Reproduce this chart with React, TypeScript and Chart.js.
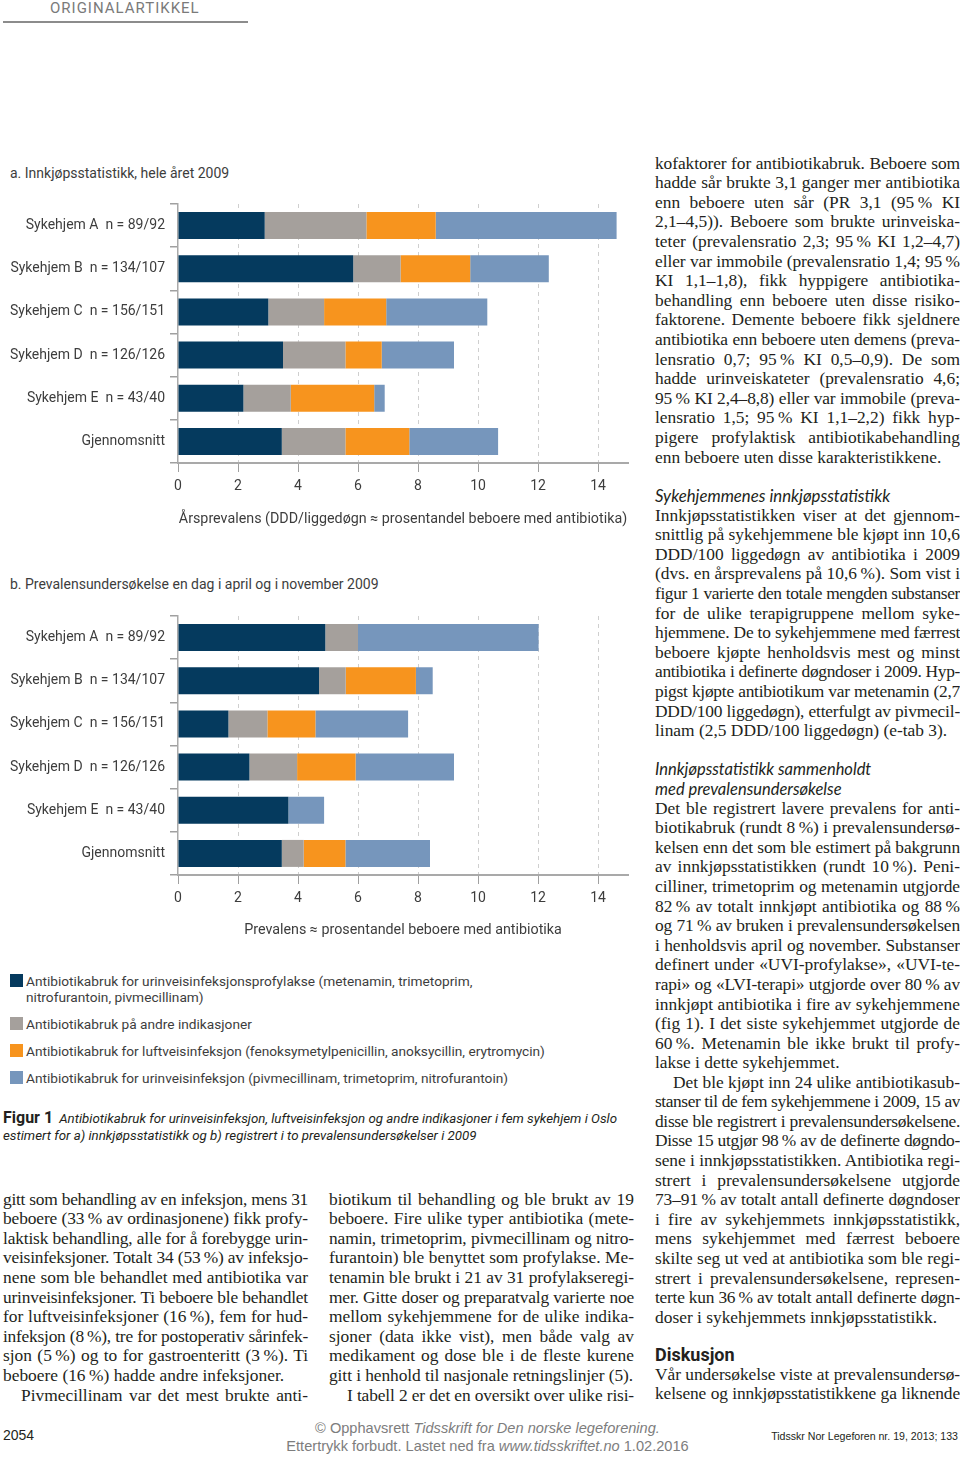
import React, { useEffect, useLayoutEffect, useRef } from 'react';
import { Chart, registerables } from 'chart.js';

Chart.register(...registerables);

// ---------- chart data ----------
const categories = [
  'Sykehjem A  n = 89/92',
  'Sykehjem B  n = 134/107',
  'Sykehjem C  n = 156/151',
  'Sykehjem D  n = 126/126',
  'Sykehjem E  n = 43/40',
  'Gjennomsnitt',
];

const seriesLabels = [
  'Antibiotikabruk for urinveisinfeksjonsprofylakse (metenamin, trimetoprim, nitrofurantoin, pivmecillinam)',
  'Antibiotikabruk på andre indikasjoner',
  'Antibiotikabruk for luftveisinfeksjon (fenoksymetylpenicillin, anoksycillin, erytromycin)',
  'Antibiotikabruk for urinveisinfeksjon (pivmecillinam, trimetoprim, nitrofurantoin)',
];
const seriesColors = ['#053a5e', '#a5a09c', '#f7941e', '#7696bc'];

// a. Innkjøpsstatistikk (DDD/liggedøgn)
const profylakseA = [2.89, 5.84, 3.01, 3.5, 2.18, 3.46];
const andreA = [3.39, 1.58, 1.86, 2.08, 1.58, 2.12];
const luftveiA = [2.31, 2.32, 2.07, 1.21, 2.78, 2.13];
const urinveiA = [6.03, 2.62, 3.37, 2.41, 0.35, 2.96];

// b. Prevalensundersøkelse (%)
const profylakseB = [4.91, 4.7, 1.68, 2.38, 3.68, 3.46];
const andreB = [1.09, 0.89, 1.3, 1.59, 0, 0.73];
const luftveiB = [0, 2.34, 1.6, 1.95, 0, 1.39];
const urinveiB = [6.02, 0.56, 3.09, 3.28, 1.19, 2.82];

const xTickValues = [0, 2, 4, 6, 8, 10, 12, 14];
const xMax = 15;

const titleA = 'a. Innkjøpsstatistikk, hele året 2009';
const titleB = 'b. Prevalensundersøkelse en dag i april og i november 2009';
const xTitleA = 'Årsprevalens (DDD/liggedøgn ≈ prosentandel beboere med antibiotika)';
const xTitleB = 'Prevalens ≈ prosentandel beboere med antibiotika';

// ---------- page text ----------
const rightP1 = [
  'kofaktorer for antibiotikabruk. Beboere som',
  'hadde sår brukte 3,1 ganger mer antibiotika',
  'enn beboere uten sår (PR 3,1 (95 % KI',
  '2,1–4,5)). Beboere som brukte urinveiska-',
  'teter (prevalensratio 2,3; 95 % KI 1,2–4,7)',
  'eller var immobile (prevalensratio 1,4; 95 %',
  'KI 1,1–1,8), fikk hyppigere antibiotika-',
  'behandling enn beboere uten disse risiko-',
  'faktorene. Demente beboere fikk sjeldnere',
  'antibiotika enn beboere uten demens (preva-',
  'lensratio 0,7; 95 % KI 0,5–0,9). De som',
  'hadde urinveiskateter (prevalensratio 4,6;',
  '95 % KI 2,4–8,8) eller var immobile (preva-',
  'lensratio 1,5; 95 % KI 1,1–2,2) fikk hyp-',
  'pigere profylaktisk antibiotikabehandling',
  'enn beboere uten disse karakteristikkene.',
];
const rightP2 = [
  'Innkjøpsstatistikken viser at det gjennom-',
  'snittlig på sykehjemmene ble kjøpt inn 10,6',
  'DDD/100 liggedøgn av antibiotika i 2009',
  '(dvs. en årsprevalens på 10,6 %). Som vist i',
  'figur 1 varierte den totale mengden substanser',
  'for de ulike terapigruppene mellom syke-',
  'hjemmene. De to sykehjemmene med færrest',
  'beboere kjøpte henholdsvis mest og minst',
  'antibiotika i definerte døgndoser i 2009. Hyp-',
  'pigst kjøpte antibiotikum var metenamin (2,7',
  'DDD/100 liggedøgn), etterfulgt av pivmecil-',
  'linam (2,5 DDD/100 liggedøgn) (e-tab 3).',
];
const rightP3 = [
  'Det ble registrert lavere prevalens for anti-',
  'biotikabruk (rundt 8 %) i prevalensundersø-',
  'kelsen enn det som ble estimert på bakgrunn',
  'av innkjøpsstatistikken (rundt 10 %). Peni-',
  'cilliner, trimetoprim og metenamin utgjorde',
  '82 % av totalt innkjøpt antibiotika og 88 %',
  'og 71 % av bruken i prevalensundersøkelsen',
  'i henholdsvis april og november. Substanser',
  'definert under «UVI-profylakse», «UVI-te-',
  'rapi» og «LVI-terapi» utgjorde over 80 % av',
  'innkjøpt antibiotika i fire av sykehjemmene',
  '(fig 1). I det siste sykehjemmet utgjorde de',
  '60 %. Metenamin ble ikke brukt til profy-',
  'lakse i dette sykehjemmet.',
];
const rightP4 = [
  'Det ble kjøpt inn 24 ulike antibiotikasub-',
  'stanser til de fem sykehjemmene i 2009, 15 av',
  'disse ble registrert i prevalensundersøkelsene.',
  'Disse 15 utgjør 98 % av de definerte døgndo-',
  'sene i innkjøpsstatistikken. Antibiotika regi-',
  'strert i prevalensundersøkelsene utgjorde',
  '73–91 % av totalt antall definerte døgndoser',
  'i fire av sykehjemmets innkjøpsstatistikk,',
  'mens sykehjemmet med færrest beboere',
  'skilte seg ut ved at antibiotika som ble regi-',
  'strert i prevalensundersøkelsene, represen-',
  'terte kun 36 % av totalt antall definerte døgn-',
  'doser i sykehjemmets innkjøpsstatistikk.',
];
const rightP5 = [
  'Vår undersøkelse viste at prevalensundersø-',
  'kelsene og innkjøpsstatistikkene ga liknende',
];
const leftC1 = [
  'gitt som behandling av en infeksjon, mens 31',
  'beboere (33 % av ordinasjonene) fikk profy-',
  'laktisk behandling, alle for å forebygge urin-',
  'veisinfeksjoner. Totalt 34 (53 %) av infeksjo-',
  'nene som ble behandlet med antibiotika var',
  'urinveisinfeksjoner. Ti beboere ble behandlet',
  'for luftveisinfeksjoner (16 %), fem for hud-',
  'infeksjon (8 %), tre for postoperativ sårinfek-',
  'sjon (5 %) og to for gastroenteritt (3 %). Ti',
  'beboere (16 %) hadde andre infeksjoner.',
];
const leftC1b = ['Pivmecillinam var det mest brukte anti-'];
const leftC2 = [
  'biotikum til behandling og ble brukt av 19',
  'beboere. Fire ulike typer antibiotika (mete-',
  'namin, trimetoprim, pivmecillinam og nitro-',
  'furantoin) ble benyttet som profylakse. Me-',
  'tenamin ble brukt i 21 av 31 profylaksesregi-'.replace('sregi', 'regi'),
  'mer. Gitte doser og preparatvalg varierte noe',
  'mellom sykehjemmene for de ulike indika-',
  'sjoner (data ikke vist), men både valg av',
  'medikament og dose ble i de fleste kurene',
  'gitt i henhold til nasjonale retningslinjer (5).',
];
const leftC2b = ['I tabell 2 er det en oversikt over ulike risi-'];

const LH = 19.6;
const SERIF = '"Liberation Serif", "Times New Roman", serif';
const SANS = 'Roboto, "Noto Sans", sans-serif';
const BODY_SIZE = 17.4;

function JLine({ text, x, y, w, last, indent = 0 }: { text: string; x: number; y: number; w: number; last: boolean; indent?: number }) {
  const ref = useRef<HTMLDivElement>(null);
  const spanRef = useRef<HTMLSpanElement>(null);
  const shown = text.replace(/ %/g, '\u202F%');
  useLayoutEffect(() => {
    const el = ref.current;
    const sp = spanRef.current;
    if (!el || !sp) return;
    el.style.textAlignLast = 'left';
    el.style.letterSpacing = '0px';
    const natural = sp.getBoundingClientRect().width;
    const avail = w - indent;
    if (natural > avail) {
      el.style.letterSpacing = ((avail - natural - 1) / shown.length) + 'px';
    }
    el.style.textAlignLast = last ? 'left' : 'justify';
  }, [shown, w, indent, last]);
  return (
    <div
      ref={ref}
      style={{
        position: 'absolute',
        left: x + indent,
        top: y - 10.5,
        width: w - indent,
        height: LH,
        lineHeight: LH + 'px',
        fontFamily: SERIF,
        fontSize: BODY_SIZE,
        color: '#231f20',
        whiteSpace: 'nowrap',
        textAlign: last ? 'left' : 'justify',
      }}
    >
      <span ref={spanRef}>{shown}</span>
    </div>
  );
}

function Para({ lines, x, y0, lastLine = true, indent = 0 }: { lines: string[]; x: number; y0: number; lastLine?: boolean; indent?: number }) {
  return (
    <>
      {lines.map((t, i) => (
        <JLine
          key={i}
          text={t}
          x={x}
          y={y0 + i * LH}
          w={305}
          indent={i === 0 ? indent : 0}
          last={lastLine && i === lines.length - 1}
        />
      ))}
    </>
  );
}

function BarChart({ series, xTitle, top, height, padTop, xHeight, titlePadBottom }: {
  series: number[][]; xTitle: string; top: number; height: number; padTop: number; xHeight: number; titlePadBottom: number;
}) {
  const ref = useRef<HTMLCanvasElement>(null);
  useEffect(() => {
    const font = { family: 'Roboto', size: 14 };
    const chart = new Chart(ref.current!, {
      type: 'bar',
      data: {
        labels: categories,
        datasets: series.map((d, i) => ({
          label: seriesLabels[i],
          data: d,
          backgroundColor: seriesColors[i],
          borderWidth: 0,
          barPercentage: 0.625,
          categoryPercentage: 1,
        })),
      },
      options: {
        indexAxis: 'y',
        responsive: false,
        animation: false,
        layout: { padding: { top: padTop, right: 12, left: 0, bottom: 0 } },
        plugins: { legend: { display: false }, tooltip: { enabled: false }, title: { display: false } },
        scales: {
          x: {
            stacked: true,
            min: 0,
            max: xMax,
            afterBuildTicks: (s: any) => {
              s.ticks = xTickValues.map((v) => ({ value: v }));
            },
            afterFit: (s: any) => {
              s.height = xHeight;
            },
            ticks: { font, color: '#3d3d3d', padding: 6, maxRotation: 0, autoSkip: false },
            grid: {
              color: (ctx: any) => (ctx.tick && ctx.tick.value === 0 ? 'rgba(0,0,0,0)' : '#cfcfcf'),
              lineWidth: 1,
              tickColor: '#a0a0a0',
              tickLength: 9,
              tickWidth: 1,
              tickBorderDash: [],
            },
            border: { display: true, color: '#a9a9a9', width: 2, dash: [4, 4] },
            title: {
              display: true,
              text: xTitle,
              font: { family: 'Roboto', size: 14.3 },
              color: '#3d3d3d',
              padding: { top: 0, bottom: titlePadBottom },
            },
          },
          y: {
            stacked: true,
            afterFit: (s: any) => {
              s.width = 178;
            },
            ticks: { font, color: '#3d3d3d', padding: 5, autoSkip: false },
            grid: {
              drawOnChartArea: false,
              offset: true,
              tickLength: 8,
              color: '#a0a0a0',
              tickColor: '#a0a0a0',
              lineWidth: 1.5,
            },
            border: { display: true, color: '#a9a9a9', width: 1.5 },
          },
        },
      },
    } as any);
    return () => chart.destroy();
  }, []);
  return (
    <canvas
      ref={ref}
      width={640}
      height={height}
      style={{ position: 'absolute', left: 0, top, width: 640, height, display: 'block' }}
    />
  );
}

const legendLines = [
  [seriesLabels[0].slice(0, seriesLabels[0].indexOf('trimetoprim,') + 12), seriesLabels[0].slice(seriesLabels[0].indexOf('trimetoprim,') + 13)],
  [seriesLabels[1]],
  [seriesLabels[2]],
  [seriesLabels[3]],
];
const legendY = [981, 1024, 1051, 1078];

export default function App() {
  const sansLabel: React.CSSProperties = { position: 'absolute', fontFamily: SANS, fontSize: 14, color: '#3d3d3d', whiteSpace: 'nowrap', lineHeight: '18px' };
  const FOOT = '"Liberation Sans Narrow", "Liberation Sans", sans-serif';
  return (
    <div style={{ position: 'absolute', left: 0, top: 0, width: 960, height: 1458, background: '#fff', overflow: 'hidden' }}>
      {/* header */}
      <div style={{ position: 'absolute', left: 50, top: -1, fontFamily: SANS, fontSize: 15, letterSpacing: 1, color: '#7a7a7a', lineHeight: '18px', whiteSpace: 'nowrap' }}>ORIGINALARTIKKEL</div>
      <div style={{ position: 'absolute', left: 3, top: 21, width: 245, height: 2, background: '#8c8c8c' }} />

      {/* chart titles */}
      <div style={{ ...sansLabel, left: 10, top: 164 }}>{titleA}</div>
      <div style={{ ...sansLabel, left: 10, top: 575 }}>{titleB}</div>

      <BarChart series={[profylakseA, andreA, luftveiA, urinveiA]} xTitle={xTitleA} top={190} height={350} padTop={14} xHeight={77} titlePadBottom={11.5} />
      <BarChart series={[profylakseB, andreB, luftveiB, urinveiB]} xTitle={xTitleB} top={600} height={350} padTop={16} xHeight={75} titlePadBottom={10.5} />

      {/* legend */}
      {legendLines.map((lines, i) => (
        <React.Fragment key={i}>
          <div style={{ position: 'absolute', left: 10, top: legendY[i] - 7, width: 13, height: 13, background: seriesColors[i] }} />
          {lines.map((t, j) => (
            <div key={j} style={{ position: 'absolute', left: 26, top: legendY[i] - 9 + j * 16, fontFamily: SANS, fontSize: 13.7, color: '#3d3d3d', whiteSpace: 'nowrap', lineHeight: '18px' }}>{t}</div>
          ))}
        </React.Fragment>
      ))}

      {/* caption */}
      <div style={{ position: 'absolute', left: 3, top: 1108, whiteSpace: 'nowrap', lineHeight: '19px', color: '#231f20' }}>
        <span style={{ fontFamily: SANS, fontWeight: 700, fontSize: 16 }}>Figur 1</span>
        <span style={{ fontFamily: SANS, fontStyle: 'italic', fontSize: 13.3, marginLeft: 6 }}>Antibiotikabruk for urinveisinfeksjon, luftveisinfeksjon og andre indikasjoner i fem sykehjem i Oslo</span>
      </div>
      <div style={{ position: 'absolute', left: 3, top: 1127, whiteSpace: 'nowrap', lineHeight: '18px', color: '#231f20', fontFamily: SANS, fontStyle: 'italic', fontSize: 13.3 }}>
        estimert for a) innkjøpsstatistikk og b) registrert i to prevalensundersøkelser i 2009
      </div>

      {/* right column */}
      <Para lines={rightP1} x={655} y0={164} />
      <div style={{ position: 'absolute', left: 655, top: 486, fontFamily: 'Lato, "Open Sans", sans-serif', fontStyle: 'italic', fontSize: 16.8, color: '#231f20', whiteSpace: 'nowrap', lineHeight: '20px' }}>Sykehjemmenes innkjøpsstatistikk</div>
      <Para lines={rightP2} x={655} y0={516} />
      <div style={{ position: 'absolute', left: 655, top: 760, fontFamily: 'Lato, "Open Sans", sans-serif', fontStyle: 'italic', fontSize: 16.5, color: '#231f20', whiteSpace: 'nowrap', lineHeight: '19.5px' }}>
        Innkjøpsstatistikk sammenholdt<br />med prevalensundersøkelse
      </div>
      <Para lines={rightP3} x={655} y0={809} />
      <Para lines={rightP4} x={655} y0={1083} indent={18} />
      <div style={{ position: 'absolute', left: 655, top: 1344, fontFamily: SANS, fontWeight: 700, fontSize: 18, color: '#231f20', whiteSpace: 'nowrap', lineHeight: '22px' }}>Diskusjon</div>
      <Para lines={rightP5} x={655} y0={1375} lastLine={false} />

      {/* bottom left columns */}
      <Para lines={leftC1} x={3} y0={1200} />
      <Para lines={leftC1b} x={3} y0={1200 + 10 * LH} lastLine={false} indent={18} />
      <Para lines={leftC2} x={329} y0={1200} />
      <Para lines={leftC2b} x={329} y0={1200 + 10 * LH} lastLine={false} indent={18} />

      {/* footer */}
      <div style={{ position: 'absolute', left: 3, top: 1426, fontFamily: FOOT, fontSize: 14, color: '#231f20', whiteSpace: 'nowrap', lineHeight: '18px' }}>2054</div>
      <div style={{ position: 'absolute', left: 280, width: 415, top: 1419, textAlign: 'center', fontFamily: FOOT, fontSize: 14.6, color: '#7d7d7d', whiteSpace: 'nowrap', lineHeight: '18px' }}>
        © Opphavsrett <i>Tidsskrift for Den norske legeforening.</i><br />
        Ettertrykk forbudt. Lastet ned fra <i>www.tidsskriftet.no</i> 1.02.2016
      </div>
      <div style={{ position: 'absolute', right: 2, top: 1428, fontFamily: FOOT, fontSize: 10.6, color: '#231f20', whiteSpace: 'nowrap', lineHeight: '16px' }}>Tidsskr Nor Legeforen nr. 19, 2013; 133</div>
    </div>
  );
}
